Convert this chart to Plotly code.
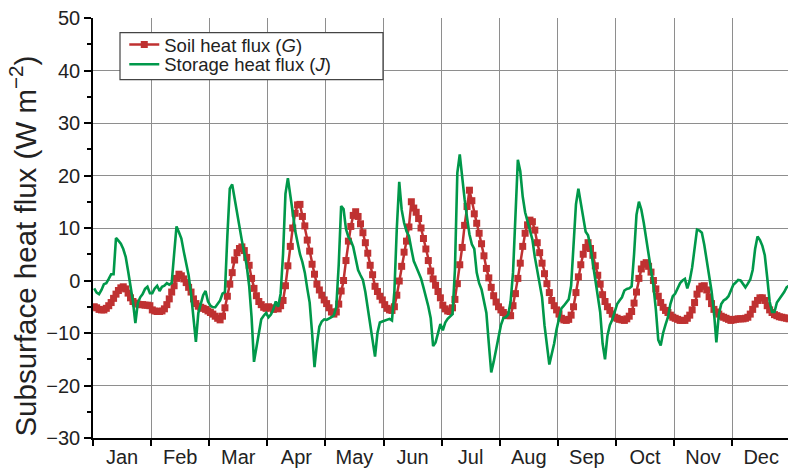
import plotly.graph_objects as go

months = ["Jan", "Feb", "Mar", "Apr", "May", "Jun", "Jul", "Aug", "Sep", "Oct", "Nov", "Dec"]

# Soil heat flux G (W m-2), mean diurnal cycle (24 hourly values) per month
G_jan = [-5.0, -5.2, -5.5, -5.6, -5.6, -5.3, -4.8, -4.2, -3.4, -2.6, -1.9, -1.4, -1.2, -1.6, -2.4, -3.3, -4.0, -4.3, -4.5, -4.6, -4.6, -4.7, -4.7, -4.8]
G_feb = [-5.6, -5.8, -5.9, -5.9, -5.8, -5.4, -4.6, -3.5, -2.2, -1.0, 0.4, 1.2, 0.9, 0.3, -0.4, -1.3, -2.2, -3.5, -4.4, -4.9, -5.1, -5.3, -5.5, -5.8]
G_mar = [-6.1, -6.4, -6.8, -7.2, -7.5, -6.8, -5.2, -3.0, -0.7, 1.5, 3.9, 5.3, 6.1, 6.4, 5.7, 4.4, 2.9, 0.4, -1.5, -2.9, -4.0, -4.6, -5.1, -5.3]
G_apr = [-5.0, -5.2, -5.5, -5.3, -5.4, -4.8, -3.8, -1.0, 2.8, 6.5, 10.0, 12.8, 14.4, 14.5, 12.2, 10.4, 7.7, 5.6, 3.1, 1.2, -0.7, -1.8, -2.8, -3.7]
G_may = [-4.4, -5.2, -6.0, -6.4, -6.0, -4.5, -2.0, 0.0, 3.8, 7.5, 10.3, 12.4, 13.1, 12.2, 10.8, 9.1, 7.2, 5.2, 2.9, 1.1, -1.1, -2.1, -3.0, -3.7]
G_jun = [-4.6, -5.3, -5.6, -5.7, -5.0, -2.8, -0.1, 2.7, 5.4, 7.5, 10.2, 15.0, 13.8, 13.0, 11.8, 10.0, 8.0, 6.0, 3.8, 1.8, 0.3, -0.9, -2.1, -3.3]
G_jul = [-4.7, -5.4, -5.8, -5.9, -5.2, -3.6, -0.6, 3.0, 6.3, 10.5, 14.1, 17.2, 15.2, 12.7, 10.9, 9.0, 7.0, 4.7, 2.3, 0.5, -1.3, -2.9, -4.1, -5.0]
G_aug = [-5.6, -6.1, -6.5, -6.7, -6.7, -4.8, -2.5, 0.4, 3.3, 6.5, 9.0, 10.6, 11.5, 11.2, 9.6, 7.2, 5.3, 3.3, 1.3, -0.6, -2.3, -3.8, -4.8, -5.6]
G_sep = [-6.4, -7.2, -7.5, -7.6, -7.4, -6.6, -5.0, -2.3, 0.7, 3.0, 5.0, 6.3, 7.2, 6.1, 4.8, 2.8, 1.0, -0.7, -2.7, -4.0, -5.0, -5.7, -6.4, -7.0]
G_oct = [-7.2, -7.4, -7.5, -7.6, -7.3, -6.8, -5.9, -4.3, -2.2, 0.4, 2.2, 3.1, 3.4, 2.7, 1.6, 0.0, -1.6, -3.0, -4.2, -5.1, -5.7, -6.1, -6.6, -7.0]
G_nov = [-7.2, -7.4, -7.6, -7.6, -7.6, -7.2, -6.6, -5.6, -4.2, -2.6, -1.6, -1.1, -1.0, -1.8, -3.1, -4.4, -5.5, -6.0, -6.4, -6.8, -7.0, -7.2, -7.4, -7.6]
G_dec = [-7.5, -7.4, -7.3, -7.3, -7.3, -7.2, -7.0, -6.4, -5.5, -4.5, -3.8, -3.3, -3.3, -3.8, -4.8, -5.6, -6.1, -6.5, -6.7, -6.9, -7.0, -7.1, -7.2, -7.3]

# Storage heat flux J (W m-2), mean diurnal cycle per month
J_jan = [-1.5, -2.3, -2.6, -1.8, -0.7, -0.5, 0.3, 1.2, 1.2, 8.1, 7.6, 7.0, 6.0, 4.5, 1.8, -0.9, -4.0, -8.1, -4.3, -3.2, -2.6, -1.6, -1.2, -2.4]
J_feb = [-2.4, -1.5, -1.0, -2.0, -1.2, -1.0, -0.5, -0.8, -0.5, 5.0, 10.3, 9.2, 8.0, 5.5, 3.3, 1.0, -2.5, -7.5, -11.7, -6.2, -4.2, -2.8, -2.0, -4.0]
J_mar = [-4.8, -5.1, -5.1, -4.5, -3.8, -2.5, -2.2, 8.5, 17.5, 18.3, 15.4, 12.5, 10.1, 7.6, 5.2, 2.8, -1.0, -7.0, -15.5, -12.6, -9.5, -7.4, -6.7, -6.2]
J_apr = [-7.0, -6.5, -5.5, -4.0, -5.0, -2.5, 5.0, 16.5, 19.5, 16.5, 13.0, 9.5, 7.0, 5.0, 3.5, 1.5, -1.5, -4.2, -10.0, -16.5, -12.0, -8.8, -7.8, -7.4]
J_may = [-7.5, -7.3, -7.0, -6.6, -5.0, 3.0, 14.2, 13.6, 9.8, 8.3, 7.6, 6.4, 4.3, 2.0, 1.0, 0.1, -2.2, -5.3, -8.5, -12.3, -14.5, -10.0, -8.0, -7.8]
J_jun = [-7.6, -7.4, -7.3, -7.6, -2.0, 10.0, 18.8, 13.5, 11.0, 9.4, 8.5, 6.0, 3.7, 2.6, 1.6, 0.4, -1.3, -3.0, -4.9, -7.2, -12.5, -11.8, -10.2, -8.3]
J_jul = [-9.5, -8.0, -7.3, -6.8, -6.4, 2.0, 20.5, 24.0, 19.4, 15.5, 12.0, 8.8, 6.9, 6.0, 1.5, -0.5, -1.7, -4.0, -6.2, -12.0, -17.5, -15.5, -13.3, -11.0]
J_aug = [-8.5, -7.2, -7.0, -6.5, -4.0, 1.5, 12.0, 23.0, 20.8, 16.0, 13.0, 11.3, 9.5, 7.8, 4.5, 1.7, -0.8, -3.2, -8.5, -12.5, -16.0, -14.0, -12.0, -9.3]
J_sep = [-7.0, -5.3, -4.8, -4.3, -3.6, -1.0, 8.0, 14.5, 17.5, 14.5, 12.0, 9.3, 8.6, 6.5, 3.2, -0.1, -2.8, -6.0, -12.0, -15.0, -10.5, -8.5, -7.5, -6.0]
J_oct = [-4.5, -3.8, -3.2, -1.9, -1.6, -1.5, -1.1, 5.0, 12.5, 15.0, 13.5, 11.0, 8.0, 4.6, 2.0, -1.0, -5.5, -11.3, -12.4, -10.0, -8.4, -7.0, -4.5, -3.0]
J_nov = [-2.5, -1.6, -0.5, 0.0, 0.3, -1.5, 0.0, 2.5, 6.5, 9.7, 9.5, 9.1, 6.8, 4.0, 1.5, -2.0, -6.0, -11.8, -6.5, -4.5, -3.8, -3.5, -3.0, -2.0]
J_dec = [-0.8, -0.4, 0.1, 0.0, -0.6, -1.3, -0.6, 0.2, 2.0, 6.0, 8.4, 7.7, 6.6, 4.8, 0.6, -4.0, -6.0, -6.0, -4.2, -3.6, -3.0, -2.2, -1.3, -1.0]

soil = [G_jan, G_feb, G_mar, G_apr, G_may, G_jun, G_jul, G_aug, G_sep, G_oct, G_nov, G_dec]
storage = [J_jan, J_feb, J_mar, J_apr, J_may, J_jun, J_jul, J_aug, J_sep, J_oct, J_nov, J_dec]

x = [m + (h + 0.5) / 24 for m in range(12) for h in range(24)]
g = [v for month in soil for v in month]
j = [v for month in storage for v in month]

RED = "#BF3131"
GREEN = "#00984A"
GRID = "#8e8e8e"
FONT = "Liberation Sans, Arial, sans-serif"

fig = go.Figure()
fig.add_trace(go.Scatter(
    x=x, y=g, mode="lines+markers", name="Soil heat flux (<i>G</i>)",
    line=dict(color=RED, width=2.5),
    marker=dict(symbol="square", size=7, color=RED),
    legend="legend",
))
fig.add_trace(go.Scatter(
    x=x, y=j, mode="lines", name="Storage heat flux (<i>J</i>)",
    line=dict(color=GREEN, width=2.6),
    legend="legend2",
))

# legend frame
fig.add_shape(type="rect", xref="paper", yref="paper",
              x0=(120 - 93) / 695, x1=(383 - 93) / 695,
              y0=(442.7 - 80) / 425, y1=(442.7 - 32.5) / 425,
              fillcolor="white", line=dict(color="#444", width=1.2), layer="above")

# y-axis title (placed as rotated text to match the reference position)
fig.add_annotation(
    text="Subsurface heat flux (W m<sup>−2</sup>)",
    xref="paper", yref="paper", x=(23 - 93) / 695, y=(442.7 - 249) / 425,
    xanchor="center", yanchor="middle", textangle=-90, showarrow=False,
    font=dict(size=29.5, family=FONT, color="#222"),
)

leg_common = dict(
    xanchor="left", yanchor="middle",
    bgcolor="rgba(0,0,0,0)", borderwidth=0,
    font=dict(size=18.5, family=FONT, color="#222"),
    itemwidth=30,
)

fig.update_layout(
    width=788, height=468,
    margin=dict(l=93, r=0, t=18, b=25),
    paper_bgcolor="white", plot_bgcolor="white",
    font=dict(family=FONT, color="#222", size=20),
    showlegend=True,
    legend=dict(x=0.045, y=(442.7 - 45) / 425, **leg_common),
    legend2=dict(x=0.045, y=(442.7 - 65) / 425, **leg_common),
    xaxis=dict(
        range=[0, 11.962],
        tickvals=[m + 0.5 for m in range(12)], ticktext=months,
        ticks="", showgrid=False, zeroline=False,
        showline=True, linecolor="black", linewidth=1.5,
        tickfont=dict(size=20, family=FONT, color="#222"),
        minor=dict(tick0=0, dtick=1, ticks="outside", ticklen=6,
                   tickcolor="black", tickwidth=1.5,
                   showgrid=True, gridcolor=GRID, gridwidth=1.3),
    ),
    yaxis=dict(
        range=[-30, 50], dtick=10, tick0=0,
        ticks="outside", ticklen=7, tickwidth=1.5, tickcolor="black",
        showgrid=True, gridcolor=GRID, gridwidth=1.3, zeroline=False,
        showline=True, linecolor="black", linewidth=1.5,
        tickfont=dict(size=20, family=FONT, color="#222"),
        minor=dict(dtick=5, ticks="outside", ticklen=4, tickcolor="black",
                   tickwidth=1.5, showgrid=False),
    ),
)

fig.write_html("out.html")
